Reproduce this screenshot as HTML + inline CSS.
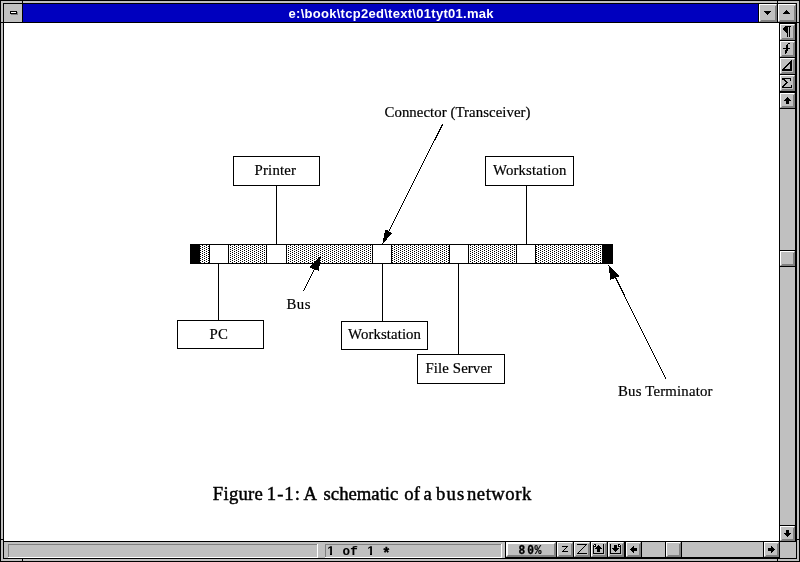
<!DOCTYPE html>
<html><head><meta charset="utf-8"><title>01tyt01.mak</title>
<style>
html,body{margin:0;padding:0;background:#fff;}
body{width:800px;height:562px;overflow:hidden;position:relative;}
svg{position:absolute;left:0;top:0;will-change:transform;}
text{white-space:pre;}
.s{font-family:"Liberation Serif",serif;font-size:14.8px;fill:#000;stroke:#000;stroke-width:.2px;}
.c{font-family:"Liberation Serif",serif;font-size:18.7px;fill:#000;stroke:#000;stroke-width:.45px;}
.t{font-family:"Liberation Sans",sans-serif;font-weight:bold;font-size:13px;fill:#fff;}
.t1{font-family:"Liberation Sans",sans-serif;font-weight:bold;font-size:12.6px;fill:#000;text-rendering:geometricPrecision;}
.m{font-family:"Liberation Mono",monospace;font-weight:bold;font-size:13.33px;fill:#000;stroke:#000;stroke-width:.35px;}
</style></head><body>
<svg width="800" height="562" viewBox="0 0 800 562" shape-rendering="crispEdges">
<defs><pattern id="dots" x="0" y="0" width="4" height="2" patternUnits="userSpaceOnUse"><rect width="4" height="2" fill="#fff"/><rect x="0" y="0" width="1" height="1" fill="#000"/><rect x="2" y="1" width="1" height="1" fill="#000"/></pattern></defs>
<rect x="0" y="0" width="800" height="562" fill="#000000"/>
<rect x="1" y="1" width="798" height="560" fill="#c0c0c0"/>
<rect x="3" y="3" width="794" height="556" fill="#000000"/>
<rect x="4" y="4" width="792" height="554" fill="#ffffff"/>
<rect x="22" y="0" width="1" height="4" fill="#000000"/>
<rect x="22" y="558" width="1" height="4" fill="#000000"/>
<rect x="777" y="0" width="1" height="4" fill="#000000"/>
<rect x="777" y="558" width="1" height="4" fill="#000000"/>
<rect x="0" y="22" width="4" height="1" fill="#000000"/>
<rect x="796" y="22" width="4" height="1" fill="#000000"/>
<rect x="0" y="539" width="4" height="1" fill="#000000"/>
<rect x="796" y="539" width="4" height="1" fill="#000000"/>
<rect x="4" y="4" width="18" height="18" fill="#c0c0c0"/>
<rect x="22" y="4" width="1" height="18" fill="#000000"/>
<rect x="23" y="4" width="735" height="18" fill="#0000bf"/>
<rect x="4" y="22" width="792" height="1" fill="#000000"/>
<rect x="11" y="12" width="7" height="3" fill="#808080"/>
<rect x="10" y="11" width="7" height="3" fill="#000000"/>
<rect x="11" y="12" width="5" height="1" fill="#ffffff"/>
<rect x="758" y="4" width="1" height="18" fill="#000000"/>
<rect x="759" y="4" width="18" height="18" fill="#c0c0c0"/>
<rect x="760" y="21" width="17" height="1" fill="#808080"/>
<rect x="776" y="5" width="1" height="17" fill="#808080"/>
<rect x="761" y="20" width="16" height="1" fill="#808080"/>
<rect x="775" y="6" width="1" height="16" fill="#808080"/>
<rect x="759" y="4" width="17" height="1" fill="#ffffff"/>
<rect x="759" y="4" width="1" height="17" fill="#ffffff"/>
<rect x="777" y="4" width="1" height="18" fill="#000000"/>
<rect x="778" y="4" width="18" height="18" fill="#c0c0c0"/>
<rect x="779" y="21" width="17" height="1" fill="#808080"/>
<rect x="795" y="5" width="1" height="17" fill="#808080"/>
<rect x="780" y="20" width="16" height="1" fill="#808080"/>
<rect x="794" y="6" width="1" height="16" fill="#808080"/>
<rect x="778" y="4" width="17" height="1" fill="#ffffff"/>
<rect x="778" y="4" width="1" height="17" fill="#ffffff"/>
<rect x="764" y="11" width="7" height="1" fill="#000000"/>
<rect x="765" y="12" width="5" height="1" fill="#000000"/>
<rect x="766" y="13" width="3" height="1" fill="#000000"/>
<rect x="767" y="14" width="1" height="1" fill="#000000"/>
<rect x="786" y="10" width="1" height="1" fill="#000000"/>
<rect x="785" y="11" width="3" height="1" fill="#000000"/>
<rect x="784" y="12" width="5" height="1" fill="#000000"/>
<rect x="783" y="13" width="7" height="1" fill="#000000"/>
<rect x="779" y="23" width="1" height="519" fill="#000000"/>
<rect x="780" y="23" width="16" height="519" fill="#000000"/>
<rect x="780" y="24" width="15" height="16" fill="#c0c0c0"/>
<rect x="781" y="39" width="14" height="1" fill="#808080"/>
<rect x="794" y="25" width="1" height="15" fill="#808080"/>
<rect x="782" y="38" width="13" height="1" fill="#808080"/>
<rect x="793" y="26" width="1" height="14" fill="#808080"/>
<rect x="780" y="24" width="14" height="1" fill="#ffffff"/>
<rect x="780" y="24" width="1" height="15" fill="#ffffff"/>
<rect x="780" y="41" width="15" height="16" fill="#c0c0c0"/>
<rect x="781" y="56" width="14" height="1" fill="#808080"/>
<rect x="794" y="42" width="1" height="15" fill="#808080"/>
<rect x="782" y="55" width="13" height="1" fill="#808080"/>
<rect x="793" y="43" width="1" height="14" fill="#808080"/>
<rect x="780" y="41" width="14" height="1" fill="#ffffff"/>
<rect x="780" y="41" width="1" height="15" fill="#ffffff"/>
<rect x="780" y="58" width="15" height="16" fill="#c0c0c0"/>
<rect x="781" y="73" width="14" height="1" fill="#808080"/>
<rect x="794" y="59" width="1" height="15" fill="#808080"/>
<rect x="782" y="72" width="13" height="1" fill="#808080"/>
<rect x="793" y="60" width="1" height="14" fill="#808080"/>
<rect x="780" y="58" width="14" height="1" fill="#ffffff"/>
<rect x="780" y="58" width="1" height="15" fill="#ffffff"/>
<rect x="780" y="75" width="15" height="16" fill="#c0c0c0"/>
<rect x="781" y="90" width="14" height="1" fill="#808080"/>
<rect x="794" y="76" width="1" height="15" fill="#808080"/>
<rect x="782" y="89" width="13" height="1" fill="#808080"/>
<rect x="793" y="77" width="1" height="14" fill="#808080"/>
<rect x="780" y="75" width="14" height="1" fill="#ffffff"/>
<rect x="780" y="75" width="1" height="15" fill="#ffffff"/>
<rect x="785" y="26" width="6" height="1" fill="#000000"/>
<rect x="784" y="27" width="4" height="1" fill="#000000"/>
<rect x="783" y="28" width="5" height="1" fill="#000000"/>
<rect x="783" y="29" width="5" height="1" fill="#000000"/>
<rect x="784" y="30" width="4" height="1" fill="#000000"/>
<rect x="785" y="31" width="3" height="1" fill="#000000"/>
<rect x="786" y="32" width="2" height="1" fill="#000000"/>
<rect x="787" y="26" width="1" height="11" fill="#000000"/>
<rect x="789" y="26" width="1" height="11" fill="#000000"/>
<rect x="788" y="43" width="2" height="1" fill="#000000"/>
<rect x="787" y="44" width="1" height="1" fill="#000000"/>
<rect x="786" y="45" width="2" height="1" fill="#000000"/>
<rect x="786" y="46" width="2" height="1" fill="#000000"/>
<rect x="786" y="47" width="2" height="1" fill="#000000"/>
<rect x="783" y="48" width="7" height="1" fill="#000000"/>
<rect x="786" y="49" width="2" height="1" fill="#000000"/>
<rect x="785" y="50" width="3" height="1" fill="#000000"/>
<rect x="785" y="51" width="2" height="1" fill="#000000"/>
<rect x="785" y="52" width="2" height="1" fill="#000000"/>
<rect x="785" y="53" width="1" height="1" fill="#000000"/>
<rect x="791" y="60" width="1" height="1" fill="#000000"/>
<rect x="790" y="61" width="2" height="1" fill="#000000"/>
<rect x="789" y="62" width="3" height="1" fill="#000000"/>
<rect x="788" y="63" width="4" height="1" fill="#000000"/>
<rect x="787" y="64" width="2" height="1" fill="#000000"/>
<rect x="790" y="64" width="2" height="1" fill="#000000"/>
<rect x="786" y="65" width="2" height="1" fill="#000000"/>
<rect x="790" y="65" width="2" height="1" fill="#000000"/>
<rect x="785" y="66" width="2" height="1" fill="#000000"/>
<rect x="790" y="66" width="2" height="1" fill="#000000"/>
<rect x="784" y="67" width="2" height="1" fill="#000000"/>
<rect x="790" y="67" width="2" height="1" fill="#000000"/>
<rect x="783" y="68" width="2" height="1" fill="#000000"/>
<rect x="790" y="68" width="2" height="1" fill="#000000"/>
<rect x="782" y="69" width="10" height="1" fill="#000000"/>
<rect x="782" y="70" width="10" height="1" fill="#000000"/>
<rect x="782" y="78" width="9" height="1" fill="#000000"/>
<rect x="782" y="79" width="3" height="1" fill="#000000"/>
<rect x="790" y="79" width="1" height="1" fill="#000000"/>
<rect x="784" y="80" width="2" height="1" fill="#000000"/>
<rect x="790" y="80" width="1" height="1" fill="#000000"/>
<rect x="785" y="81" width="2" height="1" fill="#000000"/>
<rect x="786" y="82" width="2" height="1" fill="#000000"/>
<rect x="785" y="83" width="2" height="1" fill="#000000"/>
<rect x="784" y="84" width="2" height="1" fill="#000000"/>
<rect x="783" y="85" width="2" height="1" fill="#000000"/>
<rect x="791" y="85" width="1" height="1" fill="#000000"/>
<rect x="782" y="86" width="2" height="1" fill="#000000"/>
<rect x="791" y="86" width="1" height="1" fill="#000000"/>
<rect x="782" y="87" width="10" height="1" fill="#000000"/>
<rect x="780" y="93" width="15" height="15" fill="#c0c0c0"/>
<rect x="781" y="107" width="14" height="1" fill="#808080"/>
<rect x="794" y="94" width="1" height="14" fill="#808080"/>
<rect x="782" y="106" width="13" height="1" fill="#808080"/>
<rect x="793" y="95" width="1" height="13" fill="#808080"/>
<rect x="780" y="93" width="14" height="1" fill="#ffffff"/>
<rect x="780" y="93" width="1" height="14" fill="#ffffff"/>
<rect x="780" y="109" width="15" height="416" fill="#c0c0c0"/>
<rect x="787" y="97" width="1" height="1" fill="#000000"/>
<rect x="786" y="98" width="3" height="1" fill="#000000"/>
<rect x="785" y="99" width="5" height="1" fill="#000000"/>
<rect x="784" y="100" width="7" height="1" fill="#000000"/>
<rect x="786" y="101" width="3" height="1" fill="#000000"/>
<rect x="786" y="102" width="3" height="1" fill="#000000"/>
<rect x="786" y="103" width="3" height="1" fill="#000000"/>
<rect x="780" y="250" width="15" height="17" fill="#000000"/>
<rect x="780" y="251" width="15" height="15" fill="#c0c0c0"/>
<rect x="781" y="265" width="14" height="1" fill="#808080"/>
<rect x="794" y="252" width="1" height="14" fill="#808080"/>
<rect x="782" y="264" width="13" height="1" fill="#808080"/>
<rect x="793" y="253" width="1" height="13" fill="#808080"/>
<rect x="780" y="251" width="14" height="1" fill="#ffffff"/>
<rect x="780" y="251" width="1" height="14" fill="#ffffff"/>
<rect x="780" y="526" width="15" height="15" fill="#c0c0c0"/>
<rect x="781" y="540" width="14" height="1" fill="#808080"/>
<rect x="794" y="527" width="1" height="14" fill="#808080"/>
<rect x="782" y="539" width="13" height="1" fill="#808080"/>
<rect x="793" y="528" width="1" height="13" fill="#808080"/>
<rect x="780" y="526" width="14" height="1" fill="#ffffff"/>
<rect x="780" y="526" width="1" height="14" fill="#ffffff"/>
<rect x="786" y="530" width="3" height="1" fill="#000000"/>
<rect x="786" y="531" width="3" height="1" fill="#000000"/>
<rect x="786" y="532" width="3" height="1" fill="#000000"/>
<rect x="784" y="533" width="7" height="1" fill="#000000"/>
<rect x="785" y="534" width="5" height="1" fill="#000000"/>
<rect x="786" y="535" width="3" height="1" fill="#000000"/>
<rect x="787" y="536" width="1" height="1" fill="#000000"/>
<rect x="4" y="541" width="792" height="1" fill="#000000"/>
<rect x="4" y="542" width="792" height="16" fill="#c0c0c0"/>
<rect x="8" y="544" width="310" height="14" fill="#c0c0c0"/>
<rect x="8" y="544" width="310" height="1" fill="#808080"/>
<rect x="8" y="544" width="1" height="14" fill="#808080"/>
<rect x="8" y="557" width="310" height="1" fill="#ffffff"/>
<rect x="317" y="544" width="1" height="14" fill="#ffffff"/>
<rect x="325" y="544" width="177" height="14" fill="#c0c0c0"/>
<rect x="325" y="544" width="177" height="1" fill="#808080"/>
<rect x="325" y="544" width="1" height="14" fill="#808080"/>
<rect x="325" y="557" width="177" height="1" fill="#ffffff"/>
<rect x="501" y="544" width="1" height="14" fill="#ffffff"/>
<rect x="505" y="542" width="275" height="16" fill="#000000"/>
<rect x="506" y="542" width="50" height="15" fill="#c0c0c0"/>
<rect x="507" y="556" width="49" height="1" fill="#808080"/>
<rect x="555" y="543" width="1" height="14" fill="#808080"/>
<rect x="508" y="555" width="48" height="1" fill="#808080"/>
<rect x="554" y="544" width="1" height="13" fill="#808080"/>
<rect x="506" y="542" width="49" height="1" fill="#ffffff"/>
<rect x="506" y="542" width="1" height="14" fill="#ffffff"/>
<rect x="506" y="543" width="48" height="1" fill="#ffffff"/>
<rect x="507" y="542" width="1" height="13" fill="#ffffff"/>
<rect x="557" y="542" width="16" height="15" fill="#c0c0c0"/>
<rect x="558" y="556" width="15" height="1" fill="#808080"/>
<rect x="572" y="543" width="1" height="14" fill="#808080"/>
<rect x="559" y="555" width="14" height="1" fill="#808080"/>
<rect x="571" y="544" width="1" height="13" fill="#808080"/>
<rect x="557" y="542" width="15" height="1" fill="#ffffff"/>
<rect x="557" y="542" width="1" height="14" fill="#ffffff"/>
<rect x="574" y="542" width="16" height="15" fill="#c0c0c0"/>
<rect x="575" y="556" width="15" height="1" fill="#808080"/>
<rect x="589" y="543" width="1" height="14" fill="#808080"/>
<rect x="576" y="555" width="14" height="1" fill="#808080"/>
<rect x="588" y="544" width="1" height="13" fill="#808080"/>
<rect x="574" y="542" width="15" height="1" fill="#ffffff"/>
<rect x="574" y="542" width="1" height="14" fill="#ffffff"/>
<rect x="591" y="542" width="16" height="15" fill="#c0c0c0"/>
<rect x="592" y="556" width="15" height="1" fill="#808080"/>
<rect x="606" y="543" width="1" height="14" fill="#808080"/>
<rect x="593" y="555" width="14" height="1" fill="#808080"/>
<rect x="605" y="544" width="1" height="13" fill="#808080"/>
<rect x="591" y="542" width="15" height="1" fill="#ffffff"/>
<rect x="591" y="542" width="1" height="14" fill="#ffffff"/>
<rect x="608" y="542" width="16" height="15" fill="#c0c0c0"/>
<rect x="609" y="556" width="15" height="1" fill="#808080"/>
<rect x="623" y="543" width="1" height="14" fill="#808080"/>
<rect x="610" y="555" width="14" height="1" fill="#808080"/>
<rect x="622" y="544" width="1" height="13" fill="#808080"/>
<rect x="608" y="542" width="15" height="1" fill="#ffffff"/>
<rect x="608" y="542" width="1" height="14" fill="#ffffff"/>
<rect x="626" y="542" width="15" height="15" fill="#c0c0c0"/>
<rect x="627" y="556" width="14" height="1" fill="#808080"/>
<rect x="640" y="543" width="1" height="14" fill="#808080"/>
<rect x="628" y="555" width="13" height="1" fill="#808080"/>
<rect x="639" y="544" width="1" height="13" fill="#808080"/>
<rect x="626" y="542" width="14" height="1" fill="#ffffff"/>
<rect x="626" y="542" width="1" height="14" fill="#ffffff"/>
<rect x="642" y="542" width="121" height="15" fill="#c0c0c0"/>
<rect x="665" y="542" width="17" height="15" fill="#000000"/>
<rect x="666" y="542" width="15" height="15" fill="#c0c0c0"/>
<rect x="667" y="556" width="14" height="1" fill="#808080"/>
<rect x="680" y="543" width="1" height="14" fill="#808080"/>
<rect x="668" y="555" width="13" height="1" fill="#808080"/>
<rect x="679" y="544" width="1" height="13" fill="#808080"/>
<rect x="666" y="542" width="14" height="1" fill="#ffffff"/>
<rect x="666" y="542" width="1" height="14" fill="#ffffff"/>
<rect x="764" y="542" width="15" height="15" fill="#c0c0c0"/>
<rect x="765" y="556" width="14" height="1" fill="#808080"/>
<rect x="778" y="543" width="1" height="14" fill="#808080"/>
<rect x="766" y="555" width="13" height="1" fill="#808080"/>
<rect x="777" y="544" width="1" height="13" fill="#808080"/>
<rect x="764" y="542" width="14" height="1" fill="#ffffff"/>
<rect x="764" y="542" width="1" height="14" fill="#ffffff"/>
<rect x="780" y="542" width="16" height="16" fill="#c0c0c0"/>
<rect x="562" y="546" width="6" height="1" fill="#000000"/>
<rect x="566" y="547" width="1" height="1" fill="#000000"/>
<rect x="565" y="548" width="1" height="1" fill="#000000"/>
<rect x="564" y="549" width="1" height="1" fill="#000000"/>
<rect x="563" y="550" width="1" height="1" fill="#000000"/>
<rect x="562" y="551" width="6" height="1" fill="#000000"/>
<rect x="577" y="544" width="10" height="1" fill="#000000"/>
<rect x="585" y="545" width="1" height="1" fill="#000000"/>
<rect x="584" y="546" width="1" height="1" fill="#000000"/>
<rect x="583" y="547" width="1" height="1" fill="#000000"/>
<rect x="582" y="548" width="1" height="1" fill="#000000"/>
<rect x="581" y="549" width="1" height="1" fill="#000000"/>
<rect x="580" y="550" width="1" height="1" fill="#000000"/>
<rect x="579" y="551" width="1" height="1" fill="#000000"/>
<rect x="578" y="552" width="1" height="1" fill="#000000"/>
<rect x="577" y="553" width="10" height="1" fill="#000000"/>
<rect x="593" y="545" width="1" height="9" fill="#000000"/>
<rect x="603" y="544" width="1" height="10" fill="#000000"/>
<rect x="593" y="553" width="11" height="1" fill="#000000"/>
<rect x="594" y="544" width="2" height="1" fill="#000000"/>
<rect x="595" y="545" width="1" height="1" fill="#000000"/>
<rect x="594" y="546" width="2" height="1" fill="#000000"/>
<rect x="594" y="545" width="1" height="1" fill="#ffffff"/>
<rect x="598" y="545" width="1" height="1" fill="#000000"/>
<rect x="597" y="546" width="3" height="1" fill="#000000"/>
<rect x="596" y="547" width="5" height="1" fill="#000000"/>
<rect x="595" y="548" width="7" height="1" fill="#000000"/>
<rect x="597" y="549" width="3" height="1" fill="#000000"/>
<rect x="597" y="550" width="3" height="1" fill="#000000"/>
<rect x="597" y="551" width="3" height="1" fill="#000000"/>
<rect x="610" y="544" width="1" height="10" fill="#000000"/>
<rect x="620" y="545" width="1" height="9" fill="#000000"/>
<rect x="610" y="553" width="11" height="1" fill="#000000"/>
<rect x="618" y="544" width="2" height="1" fill="#000000"/>
<rect x="618" y="545" width="1" height="1" fill="#000000"/>
<rect x="618" y="546" width="2" height="1" fill="#000000"/>
<rect x="619" y="545" width="1" height="1" fill="#ffffff"/>
<rect x="614" y="545" width="3" height="1" fill="#000000"/>
<rect x="614" y="546" width="3" height="1" fill="#000000"/>
<rect x="614" y="547" width="3" height="1" fill="#000000"/>
<rect x="612" y="548" width="7" height="1" fill="#000000"/>
<rect x="613" y="549" width="5" height="1" fill="#000000"/>
<rect x="614" y="550" width="3" height="1" fill="#000000"/>
<rect x="615" y="551" width="1" height="1" fill="#000000"/>
<rect x="630" y="549" width="1" height="1" fill="#000000"/>
<rect x="631" y="548" width="6" height="1" fill="#000000"/>
<rect x="631" y="550" width="6" height="1" fill="#000000"/>
<rect x="631" y="549" width="6" height="1" fill="#000000"/>
<rect x="632" y="547" width="2" height="1" fill="#000000"/>
<rect x="632" y="551" width="2" height="1" fill="#000000"/>
<rect x="633" y="546" width="1" height="1" fill="#000000"/>
<rect x="633" y="552" width="1" height="1" fill="#000000"/>
<rect x="774" y="549" width="1" height="1" fill="#000000"/>
<rect x="768" y="548" width="6" height="1" fill="#000000"/>
<rect x="768" y="550" width="6" height="1" fill="#000000"/>
<rect x="768" y="549" width="6" height="1" fill="#000000"/>
<rect x="771" y="547" width="2" height="1" fill="#000000"/>
<rect x="771" y="551" width="2" height="1" fill="#000000"/>
<rect x="771" y="546" width="1" height="1" fill="#000000"/>
<rect x="771" y="552" width="1" height="1" fill="#000000"/>
<rect x="190" y="244" width="423" height="20" fill="#000000"/>
<rect x="191" y="245" width="421" height="18" fill="url(#dots)"/>
<rect x="190" y="244" width="10" height="20" fill="#000000"/>
<rect x="602" y="244" width="11" height="20" fill="#000000"/>
<rect x="209" y="244" width="20" height="20" fill="#000000"/>
<rect x="210" y="245" width="18" height="18" fill="#ffffff"/>
<rect x="266" y="244" width="21" height="20" fill="#000000"/>
<rect x="267" y="245" width="19" height="18" fill="#ffffff"/>
<rect x="372" y="244" width="20" height="20" fill="#000000"/>
<rect x="373" y="245" width="18" height="18" fill="#ffffff"/>
<rect x="449" y="244" width="20" height="20" fill="#000000"/>
<rect x="450" y="245" width="18" height="18" fill="#ffffff"/>
<rect x="516" y="244" width="20" height="20" fill="#000000"/>
<rect x="517" y="245" width="18" height="18" fill="#ffffff"/>
<rect x="233" y="156" width="87" height="30" fill="#000000"/>
<rect x="234" y="157" width="85" height="28" fill="#ffffff"/>
<rect x="485" y="156" width="89" height="30" fill="#000000"/>
<rect x="486" y="157" width="87" height="28" fill="#ffffff"/>
<rect x="177" y="320" width="87" height="29" fill="#000000"/>
<rect x="178" y="321" width="85" height="27" fill="#ffffff"/>
<rect x="341" y="321" width="87" height="29" fill="#000000"/>
<rect x="342" y="322" width="85" height="27" fill="#ffffff"/>
<rect x="417" y="354" width="88" height="30" fill="#000000"/>
<rect x="418" y="355" width="86" height="28" fill="#ffffff"/>
<rect x="276" y="186" width="1" height="58" fill="#000000"/>
<rect x="526" y="186" width="1" height="58" fill="#000000"/>
<rect x="218" y="264" width="1" height="56" fill="#000000"/>
<rect x="382" y="264" width="1" height="57" fill="#000000"/>
<rect x="458" y="264" width="1" height="90" fill="#000000"/>
<line x1="442.5" y1="124.5" x2="382.5" y2="244" stroke="#000" stroke-width="1"/>
<polygon points="382.5,244 385,230 387,230 392,233.5" fill="#000"/>
<line x1="303.5" y1="291" x2="320.5" y2="256.5" stroke="#000" stroke-width="1"/>
<polygon points="320.5,256.5 309.3,267.3 319,271" fill="#000"/>
<line x1="666" y1="379" x2="615.5" y2="277.5" stroke="#000" stroke-width="1"/>
<polygon points="608.4,265.4 610.5,279.8 619.4,276.3" fill="#000"/>
<text class="t" x="288.5" y="17.5" textLength="205" lengthAdjust="spacing">e:\book\tcp2ed\text\01tyt01.mak</text>
<text class="s" x="384.5" y="117" textLength="146">Connector (Transceiver)</text>
<text class="s" x="254.5" y="175" textLength="41.5">Printer</text>
<text class="s" x="493" y="175" textLength="73.5">Workstation</text>
<text class="s" x="209.5" y="339" textLength="18.3">PC</text>
<text class="s" x="286.5" y="309" textLength="24">Bus</text>
<text class="s" x="348" y="339" textLength="73">Workstation</text>
<text class="s" x="425.5" y="372.5" textLength="66.5">File Server</text>
<text class="s" x="618" y="396" textLength="94.5">Bus Terminator</text>
<text class="c" x="212.8" y="500" letter-spacing="0.25">Figure</text>
<text class="c" x="266.8" y="500" letter-spacing="1">1-1:</text>
<text class="c" x="303.4" y="500">A</text>
<text class="c" x="323.6" y="500">schematic</text>
<text class="c" x="404.3" y="500">of</text>
<text class="c" x="423.5" y="500">a</text>
<text class="c" x="436" y="500" letter-spacing="1.1">bus</text>
<text class="c" x="467" y="500" letter-spacing="0.5">network</text>
<text class="t1" x="327.3" y="555">1</text><text class="m" x="342.4" y="555" style="font-size:12.6px;stroke-width:.1px">o</text><text class="m" x="350.2" y="555" style="font-size:12.6px;stroke-width:.1px">f</text><text class="t1" x="367.3" y="555">1</text><text class="m" x="382" y="558" style="font-size:14.5px">*</text>
<path d="M327 553h3v2h-3zM332 553h3v2h-3zM367 553h3v2h-3zM372 553h3v2h-3z" fill="#c0c0c0"/>
<text class="m" transform="translate(518.4 554) scale(.84 1)">8</text><text class="m" transform="translate(527.3 554) scale(.84 1)">0</text><text class="m" transform="translate(534.4 554) scale(.88 1)" style="stroke-width:.15px">%</text>
</svg>
</body></html>
